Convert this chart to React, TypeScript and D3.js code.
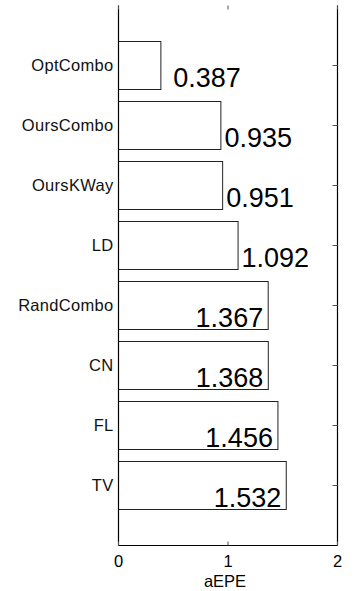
import React from "react";
import * as d3 from "d3";

// Average endpoint error per method (top to bottom)
const methods = ["OptCombo", "OursCombo", "OursKWay", "LD", "RandCombo", "CN", "FL", "TV"];
const aepe = [0.387, 0.935, 0.951, 1.092, 1.367, 1.368, 1.456, 1.532];
const xTicks = [0, 1, 2];
const xLabel = "aEPE";

const W = 357;
const H = 591;
const plot = { left: 118.5, right: 337.5, top: 5.5, bottom: 545.5 };
const FONT = "'Liberation Sans', Arial, Helvetica, sans-serif";

export default function App() {
  const x = d3.scaleLinear().domain([0, 2]).range([plot.left, plot.right]);
  // categories sit at positions 1..8 on a 0..9 axis
  const y = d3.scaleLinear().domain([0, methods.length + 1]).range([plot.top, plot.bottom]);
  const unit = y(1) - y(0);
  const barH = unit * 0.8;

  return (
    <svg
      width={W}
      height={H}
      style={{ position: "absolute", left: 0, top: 0, background: "#fff" }}
      fontFamily={FONT}
    >
      {/* bars */}
      {aepe.map((v, i) => {
        const cy = y(i + 1);
        return (
          <rect
            key={"b" + i}
            x={x(0)}
            y={cy - barH / 2}
            width={x(v) - x(0)}
            height={barH}
            fill="#fff"
            stroke="#222"
            strokeWidth={1}
          />
        );
      })}

      {/* axis lines: left, right, bottom */}
      <line x1={plot.left} x2={plot.left} y1={plot.top} y2={plot.bottom} stroke="#000" strokeWidth={1.2} />
      <line x1={plot.right} x2={plot.right} y1={plot.top} y2={plot.bottom} stroke="#000" strokeWidth={1.2} />
      <line x1={plot.left} x2={plot.right} y1={plot.bottom} y2={plot.bottom} stroke="#000" strokeWidth={1.2} />

      {/* right-side y ticks */}
      {methods.map((m, i) => (
        <line
          key={"yt" + i}
          x1={plot.right - 5}
          x2={plot.right}
          y1={y(i + 1)}
          y2={y(i + 1)}
          stroke="#555"
          strokeWidth={1}
        />
      ))}

      {/* x ticks top and bottom */}
      {xTicks.map((t) => (
        <g key={"xt" + t}>
          <line x1={x(t)} x2={x(t)} y1={plot.bottom - 4} y2={plot.bottom} stroke="#555" />
          <line x1={x(t)} x2={x(t)} y1={plot.top} y2={plot.top + 4} stroke="#555" />
          <text
            x={x(t)}
            y={566.5}
            textAnchor="middle"
            fontSize={16.5}
            fill="#000"
          >
            {t}
          </text>
        </g>
      ))}

      <text
        x={(plot.left + plot.right) / 2 - 3}
        y={587}
        textAnchor="middle"
        fontSize={16.5}
        fill="#000"
      >
        {xLabel}
      </text>

      {/* category labels */}
      {methods.map((m, i) => (
        <text
          key={"c" + i}
          x={plot.left - 5}
          y={y(i + 1) + 5.5}
          textAnchor="end"
          fontSize={16.5}
          letterSpacing={0.3}
          fill="#111"
        >
          {m}
        </text>
      ))}

      {/* value labels */}
      {aepe.map((v, i) => {
        const inside = v > 1.2;
        const tx = inside ? x(v) - 5 : Math.max(x(v) + 3.5, x(0.5));
        return (
          <text
            key={"v" + i}
            x={tx}
            y={y(i + 1) + 21}
            textAnchor={inside ? "end" : "start"}
            fontSize={27}
            fill="#000"
          >
            {v.toFixed(3)}
          </text>
        );
      })}
    </svg>
  );
}
